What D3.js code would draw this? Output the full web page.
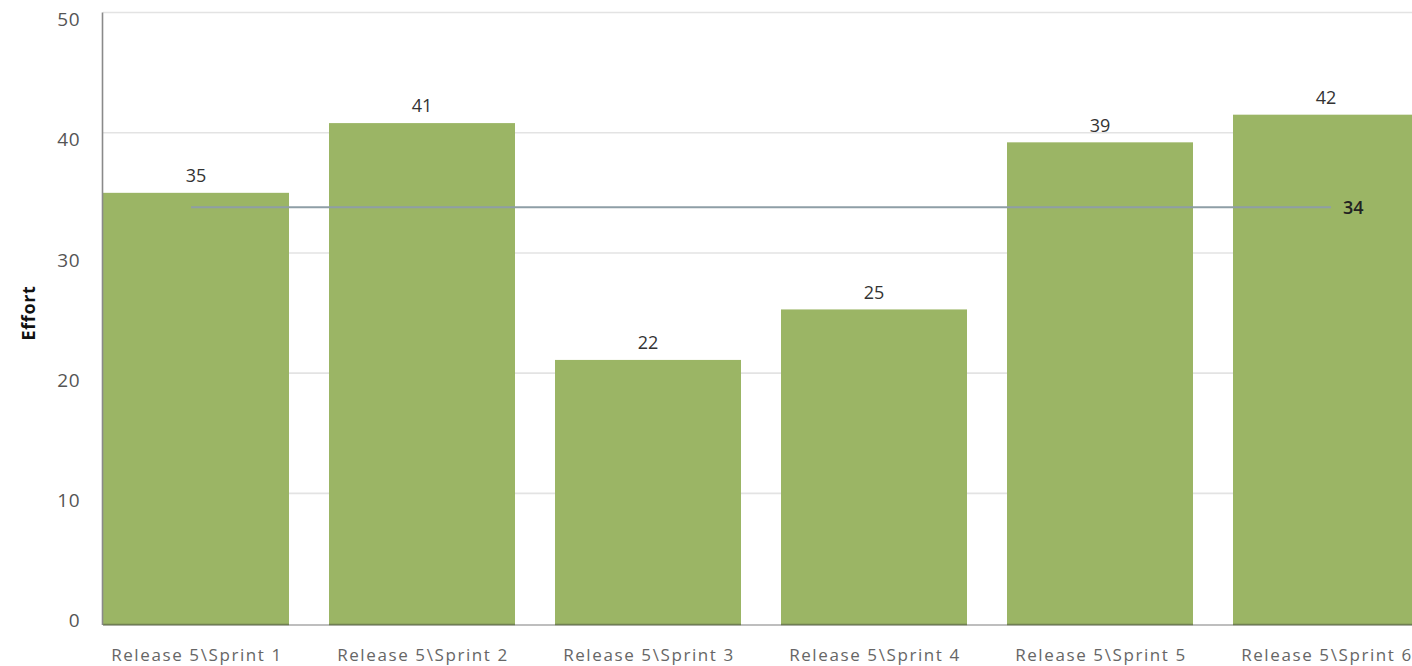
<!DOCTYPE html>
<html>
<head>
<meta charset="utf-8">
<script src="https://cdn.jsdelivr.net/npm/d3@7/dist/d3.min.js"></script>
<style>
  html, body { margin: 0; padding: 0; background: #ffffff; overflow: hidden; }
  svg { display: block; font-family: "Open Sans", "Noto Sans", sans-serif; }
</style>
</head>
<body>
<svg id="chart" width="1412" height="666"></svg>
<script>
// ---- data ----
const categories = ["Release 5\\Sprint 1", "Release 5\\Sprint 2", "Release 5\\Sprint 3",
                    "Release 5\\Sprint 4", "Release 5\\Sprint 5", "Release 5\\Sprint 6"];
const effort = [35.0, 40.8, 21.1, 25.3, 39.2, 41.5];      // bar heights
const effortLabels = [35, 41, 22, 25, 39, 42];            // data labels shown above bars
const averageEffort = 33.8;
const averageLabel = 34;
const yTicks = [0, 10, 20, 30, 40, 50];
const yTitle = "Effort";

// ---- layout ----
const W = 1412, H = 666;
const svg = d3.select("#chart");

const x = d3.scaleBand()
  .domain(categories)
  .range([103, 1419])
  .paddingInner(0.177)
  .paddingOuter(0);

const y = d3.scaleLinear()
  .domain([-0.95, 50])
  .range([625, 12.5]);

const baseY = y(y.domain()[0]);

// gridlines
svg.append("g")
  .selectAll("line")
  .data(yTicks.filter(t => t > 0))
  .join("line")
  .attr("x1", 103).attr("x2", W)
  .attr("y1", d => y(d)).attr("y2", d => y(d))
  .attr("stroke", "#e3e3e3")
  .attr("stroke-width", 1.6);

// bars
svg.append("g")
  .selectAll("rect")
  .data(effort)
  .join("rect")
  .attr("x", (d, i) => x(categories[i]))
  .attr("width", x.bandwidth())
  .attr("y", d => y(d))
  .attr("height", d => baseY - y(d))
  .attr("fill", "#9bb565");

// baseline
svg.append("line")
  .attr("x1", 103).attr("x2", W)
  .attr("y1", baseY).attr("y2", baseY)
  .attr("stroke", "#a8a8a8")
  .attr("stroke-width", 1.5);

// bar bottom darker edges
svg.append("g")
  .selectAll("line")
  .data(effort)
  .join("line")
  .attr("x1", (d, i) => x(categories[i]))
  .attr("x2", (d, i) => x(categories[i]) + x.bandwidth())
  .attr("y1", baseY - 0.5).attr("y2", baseY - 0.5)
  .attr("stroke", "#6f7f52")
  .attr("stroke-width", 1.5);

// y axis line
svg.append("line")
  .attr("x1", 102.5).attr("x2", 102.5)
  .attr("y1", y(50)).attr("y2", baseY)
  .attr("stroke", "#8a8a8a")
  .attr("stroke-width", 1.6);

// y tick labels
svg.append("g")
  .selectAll("text")
  .data(yTicks)
  .join("text")
  .attr("x", 80)
  .attr("y", d => y(d) + 7)
  .attr("dy", "0.35em")
  .attr("text-anchor", "end")
  .attr("fill", "#555555")
  .attr("font-size", 19)
  .attr("letter-spacing", 0.5)
  .text(d => d);

// y title
svg.append("text")
  .attr("transform", `translate(35, ${y(25)}) rotate(-90)`)
  .attr("text-anchor", "middle")
  .attr("font-size", 18)
  .attr("font-weight", "bold")
  .attr("letter-spacing", 0.6)
  .attr("fill", "#111111")
  .text(yTitle);

// average line
const cFirst = x(categories[0]) + x.bandwidth() / 2;
const cLast = x(categories[categories.length - 1]) + x.bandwidth() / 2;
svg.append("line")
  .attr("x1", cFirst - 5).attr("x2", cLast + 5)
  .attr("y1", y(averageEffort)).attr("y2", y(averageEffort))
  .attr("stroke", "#8e9ea6")
  .attr("stroke-width", 2.2);

svg.append("text")
  .attr("x", cLast + 17)
  .attr("y", y(averageEffort))
  .attr("dy", "0.35em")
  .attr("font-size", 18)
  .attr("font-weight", 600)
  .attr("fill", "#222222")
  .text(averageLabel);

// data labels
svg.append("g")
  .selectAll("text")
  .data(effort)
  .join("text")
  .attr("x", (d, i) => x(categories[i]) + x.bandwidth() / 2)
  .attr("y", d => y(d) - 17)
  .attr("dy", "0.35em")
  .attr("text-anchor", "middle")
  .attr("font-size", 18)
  .attr("fill", "#333333")
  .text((d, i) => effortLabels[i]);

// category labels
svg.append("g")
  .selectAll("text")
  .data(categories)
  .join("text")
  .attr("x", d => x(d) + x.bandwidth() / 2 + 1)
  .attr("y", 655)
  .attr("dy", "0.35em")
  .attr("text-anchor", "middle")
  .attr("font-size", 17)
  .attr("letter-spacing", 1.6)
  .attr("fill", "#666666")
  .text(d => d);
</script>
</body>
</html>
